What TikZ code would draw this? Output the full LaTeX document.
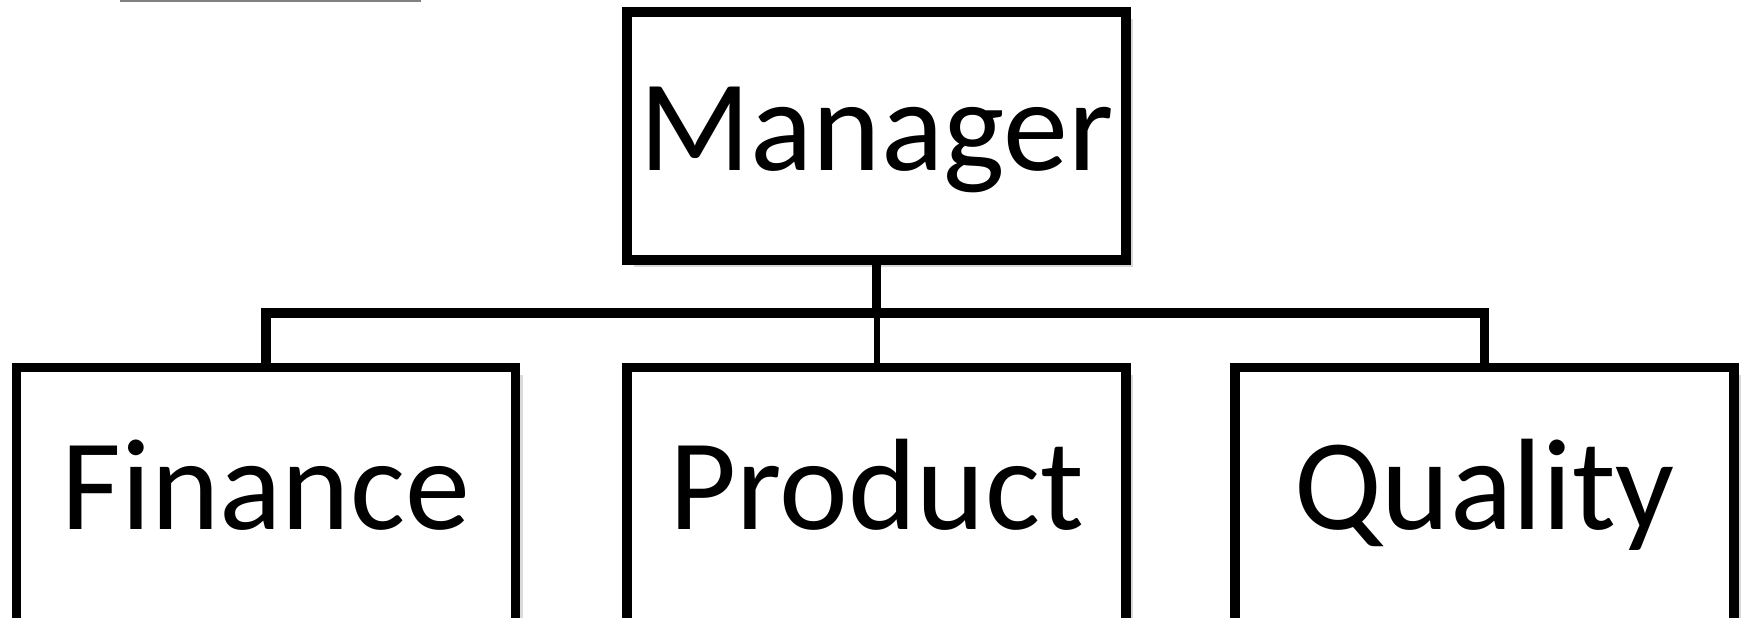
\documentclass[tikz,border=0pt]{standalone}
\usepackage{fontspec}
\setmainfont{Carlito}
\usetikzlibrary{shadows}
\tikzset{
  unitbox/.style={draw,fill=white,line width=0.095cm,inner sep=0pt,
    minimum width=4.99cm,font=\fontsize{37}{40}\selectfont,
    text height=0.81cm,text depth=0.13cm,
    drop shadow={shadow xshift=2pt,shadow yshift=-2pt,fill=black,opacity=0.15}},
  link/.style={line width=0.095cm},
}
\begin{document}
\begin{tikzpicture}[x=0.01cm,y=-0.01cm]
  \useasboundingbox (0,0) rectangle (1744,617);
  \clip (0,0) rectangle (1744,617);
  \draw[gray,line width=0.02cm] (120,1) -- (421,1);
  \node[unitbox,minimum height=2.48cm] (mgr) at (876.5,136) {Manager};
  \node[unitbox,minimum height=2.56cm] (fin) at (266,495.6) {Finance};
  \node[unitbox,minimum height=2.56cm] (pro) at (876.5,495.6) {Product};
  \node[unitbox,minimum height=2.56cm] (qua) at (1484.5,495.6) {Quality};
  \coordinate (bus) at (876.5,313);
  \draw[link] (fin.north) |- (bus) -| (qua.north);
  \draw[link] (mgr.south) -- (bus);
  \draw[link,line width=0.06cm] (bus) -- (pro.north);
\end{tikzpicture}
\end{document}
